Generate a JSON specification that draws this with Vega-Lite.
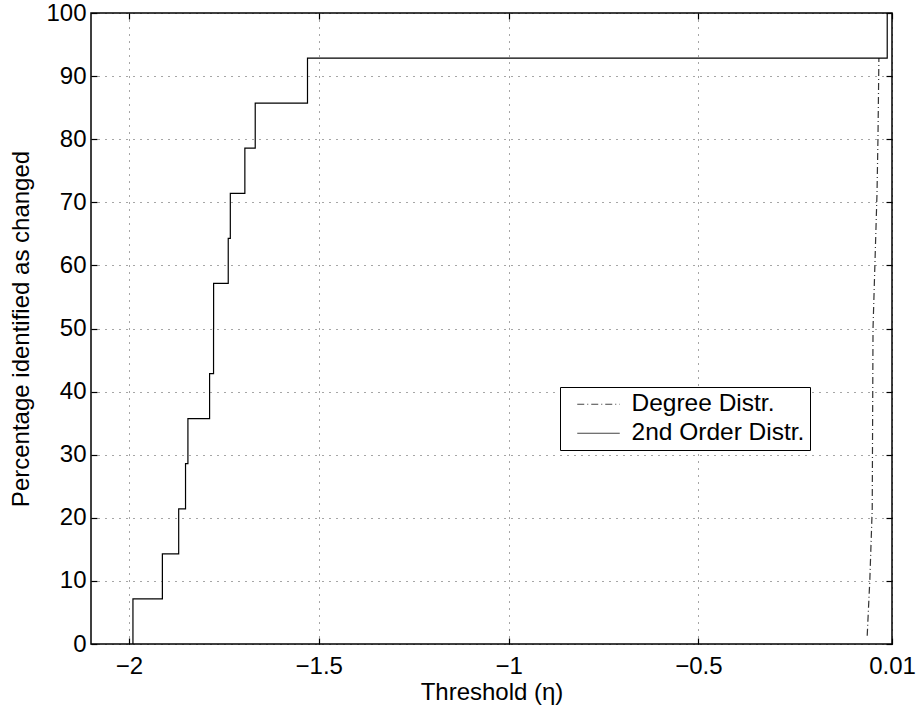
{
  "$schema": "https://vega.github.io/schema/vega-lite/v6.json",
  "width": 801,
  "height": 631,
  "autosize": {"type": "none"},
  "padding": {"left": 91, "top": 13, "right": 27, "bottom": 65},
  "background": "white",
  "config": {
    "font": "Liberation Sans",
    "view": {"stroke": "black", "strokeWidth": 1.5},
    "axis": {
      "labelFontSize": 24,
      "titleFontSize": 24,
      "titleFontWeight": "normal",
      "labelColor": "black",
      "titleColor": "black",
      "domain": false,
      "tickColor": "black",
      "tickSize": -6,
      "tickWidth": 1.2,
      "gridColor": "#000000",
      "gridOpacity": 0.7,
      "gridDash": [1, 6],
      "labelFlush": false,
      "labelOverlap": false
    }
  },
  "datasets": {
    "degree": [
      {"eta": -0.0553, "pct": 1.3, "series": "Degree Distr."},
      {"eta": -0.0508, "pct": 7.14, "series": "Degree Distr."},
      {"eta": -0.0485, "pct": 10.0, "series": "Degree Distr."},
      {"eta": -0.0421, "pct": 21.43, "series": "Degree Distr."},
      {"eta": -0.04, "pct": 50.0, "series": "Degree Distr."},
      {"eta": -0.0295, "pct": 71.43, "series": "Degree Distr."},
      {"eta": -0.027, "pct": 80.0, "series": "Degree Distr."},
      {"eta": -0.0245, "pct": 92.86, "series": "Degree Distr."}
    ],
    "second": [
      {"eta": -1.9895, "pct": 0, "series": "2nd Order Distr."},
      {"eta": -1.9895, "pct": 7.14, "series": "2nd Order Distr."},
      {"eta": -1.912, "pct": 14.29, "series": "2nd Order Distr."},
      {"eta": -1.869, "pct": 21.43, "series": "2nd Order Distr."},
      {"eta": -1.851, "pct": 28.57, "series": "2nd Order Distr."},
      {"eta": -1.8447, "pct": 35.71, "series": "2nd Order Distr."},
      {"eta": -1.7876, "pct": 42.86, "series": "2nd Order Distr."},
      {"eta": -1.7772, "pct": 50.0, "series": "2nd Order Distr."},
      {"eta": -1.777, "pct": 57.14, "series": "2nd Order Distr."},
      {"eta": -1.7385, "pct": 64.29, "series": "2nd Order Distr."},
      {"eta": -1.733, "pct": 71.43, "series": "2nd Order Distr."},
      {"eta": -1.6947, "pct": 78.57, "series": "2nd Order Distr."},
      {"eta": -1.6674, "pct": 85.71, "series": "2nd Order Distr."},
      {"eta": -1.5297, "pct": 92.86, "series": "2nd Order Distr."},
      {"eta": -0.0026, "pct": 100, "series": "2nd Order Distr."},
      {"eta": 0.01, "pct": 100, "series": "2nd Order Distr."}
    ]
  },
  "layer": [
    {
      "data": {"name": "degree"},
      "mark": {"type": "line", "color": "#333333", "strokeWidth": 1.2, "clip": true},
      "encoding": {
        "x": {
          "field": "eta", "type": "quantitative",
          "scale": {"domain": [-2.1, 0.01], "nice": false, "zero": false},
          "axis": {"values": [-2, -1.5, -1, -0.5, 0.01], "format": "~g", "title": "Threshold (η)", "grid": true, "labelPadding": 16, "titlePadding": 2}
        },
        "y": {
          "field": "pct", "type": "quantitative",
          "scale": {"domain": [0, 100], "nice": false},
          "axis": {"values": [0, 10, 20, 30, 40, 50, 60, 70, 80, 90, 100], "title": "Percentage identified as changed", "grid": true, "labelPadding": 11, "titlePadding": 12}
        },
        "strokeDash": {
          "field": "series", "type": "nominal",
          "scale": {"domain": ["Degree Distr.", "2nd Order Distr."], "range": [[7, 3, 1, 3], [1, 0]]},
          "legend": {
            "orient": "none", "legendX": 469, "legendY": 374, "title": null,
            "labelFontSize": 24.5, "labelColor": "black", "labelLimit": 400,
            "symbolType": "M0,0H8.5", "symbolSize": 100,
            "symbolStrokeWidth": 1.2, "symbolStrokeColor": "#444444", "symbolFillColor": "transparent",
            "strokeColor": "black", "fillColor": "white",
            "padding": 5, "labelOffset": 42, "rowPadding": 4, "cornerRadius": 0
          }
        }
      }
    },
    {
      "data": {"name": "second"},
      "mark": {"type": "line", "color": "black", "strokeWidth": 1.2, "interpolate": "step-after", "clip": true},
      "encoding": {
        "x": {
          "field": "eta", "type": "quantitative",
          "axis": {"orient": "top", "values": [-2, -1.5, -1, -0.5, 0.01], "labels": false, "title": null, "grid": false}
        },
        "y": {
          "field": "pct", "type": "quantitative",
          "axis": {"orient": "right", "values": [0, 10, 20, 30, 40, 50, 60, 70, 80, 90, 100], "labels": false, "title": null, "grid": false}
        },
        "strokeDash": {
          "field": "series", "type": "nominal",
          "legend": {
            "orient": "none", "legendX": 469, "legendY": 374, "title": null,
            "labelFontSize": 24.5, "labelColor": "black", "labelLimit": 400,
            "symbolType": "M0,0H8.5", "symbolSize": 100,
            "symbolStrokeWidth": 1.2, "symbolStrokeColor": "#444444", "symbolFillColor": "transparent",
            "strokeColor": "black", "fillColor": "white",
            "padding": 5, "labelOffset": 42, "rowPadding": 4, "cornerRadius": 0
          }
        }
      }
    }
  ],
  "resolve": {"axis": {"x": "independent", "y": "independent"}}
}
